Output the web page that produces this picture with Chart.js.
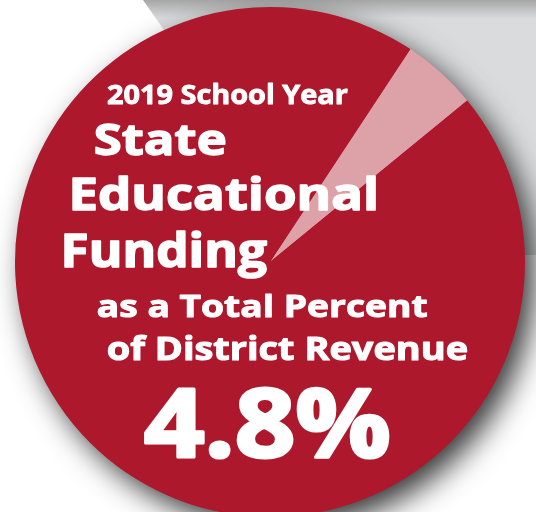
<!DOCTYPE html>
<html>
<head>
<meta charset="utf-8">
<script src="https://cdn.jsdelivr.net/npm/chart.js@4.4.1/dist/chart.umd.min.js"></script>
<style>
  html, body { margin: 0; padding: 0; background: #ffffff; overflow: hidden; }
  #wrap { position: absolute; left: 0; top: 0; width: 536px; height: 530px; }
</style>
</head>
<body>
<div id="wrap"><canvas id="fundingPie"></canvas></div>
<script>
// share of district revenue
const sliceLabels = ["State Educational Funding", "Other Revenue"];
const sliceValues = [4.8, 95.2];
const sliceColors = ["#dda1a8", "#ad182d"];

const titleLines = ["2019 School Year", "State", "Educational", "Funding",
    "as a Total Percent", "of District Revenue", "4.8%"];

// x, baseline, size, width for each text line
const lineBoxes = [
    [107, 104, 26, 241],
    [95, 155, 43, 130],
    [72, 210, 44, 303],
    [65, 267, 46, 202],
    [98, 317, 31, 329],
    [108, 360, 32, 359],
    [145, 457, 95, 243]
];

const backdrop = {
    id: "backdrop",
    beforeDraw(chart) {
        let ctx = chart.ctx;
        let arc = chart.getDatasetMeta(0).data[0];
        if (!arc) return;
        ctx.save();
        // grey card behind the circle
        let g = ctx.createLinearGradient(0, 0, 0, 30);
        g.addColorStop(0, "#a6a6a6");
        g.addColorStop(0.6, "#d9dadb");
        g.addColorStop(1, "#dadbdc");
        ctx.fillStyle = g;
        ctx.beginPath();
        ctx.moveTo(143, 0);
        ctx.lineTo(536, 0);
        ctx.lineTo(536, 255);
        ctx.lineTo(322, 255);
        ctx.closePath();
        ctx.fill();
        // drop shadow of the circle
        ctx.shadowColor = "rgba(0,0,0,0.8)";
        ctx.shadowBlur = 30;
        ctx.shadowOffsetX = 10;
        ctx.shadowOffsetY = 12;
        ctx.fillStyle = "#ad182d";
        ctx.beginPath();
        ctx.arc(arc.x, arc.y, arc.outerRadius - 1, 0, Math.PI * 2);
        ctx.fill();
        ctx.restore();
    }
};

const labelText = {
    id: "labelText",
    afterDraw(chart) {
        let ctx = chart.ctx;
        ctx.save();
        ctx.fillStyle = "#ffffff";
        ctx.strokeStyle = "#ffffff";
        ctx.lineJoin = "round";
        ctx.textAlign = "left";
        ctx.textBaseline = "alphabetic";
        for (let i = 0; i < titleLines.length; i++) {
            let [x, y, size, w] = lineBoxes[i];
            ctx.font = "bold " + size + "px 'Open Sans'";
            let m = ctx.measureText(titleLines[i]);
            let sx = w / (m.actualBoundingBoxRight + m.actualBoundingBoxLeft);
            ctx.save();
            ctx.translate(x, y);
            ctx.scale(sx, 1);
            ctx.lineWidth = size / 30;
            ctx.fillText(titleLines[i], m.actualBoundingBoxLeft, 0);
            ctx.strokeText(titleLines[i], m.actualBoundingBoxLeft, 0);
            ctx.restore();
        }
        ctx.restore();
    }
};

const ctxPie = document.getElementById("fundingPie");
const fundingPie = new Chart(ctxPie, {
    type: "pie",
    data: {
        labels: sliceLabels,
        datasets: [{
            data: sliceValues,
            backgroundColor: sliceColors,
            borderWidth: 0
        }]
    },
    options: {
        responsive: true,
        maintainAspectRatio: false,
        animation: false,
        rotation: 33.4,
        layout: {
            padding: { left: 15, right: 11, top: 7, bottom: 13 }
        },
        plugins: {
            legend: { display: false },
            title: { display: false },
            tooltip: { enabled: false }
        }
    },
    plugins: [backdrop, labelText]
});
</script>
</body>
</html>
